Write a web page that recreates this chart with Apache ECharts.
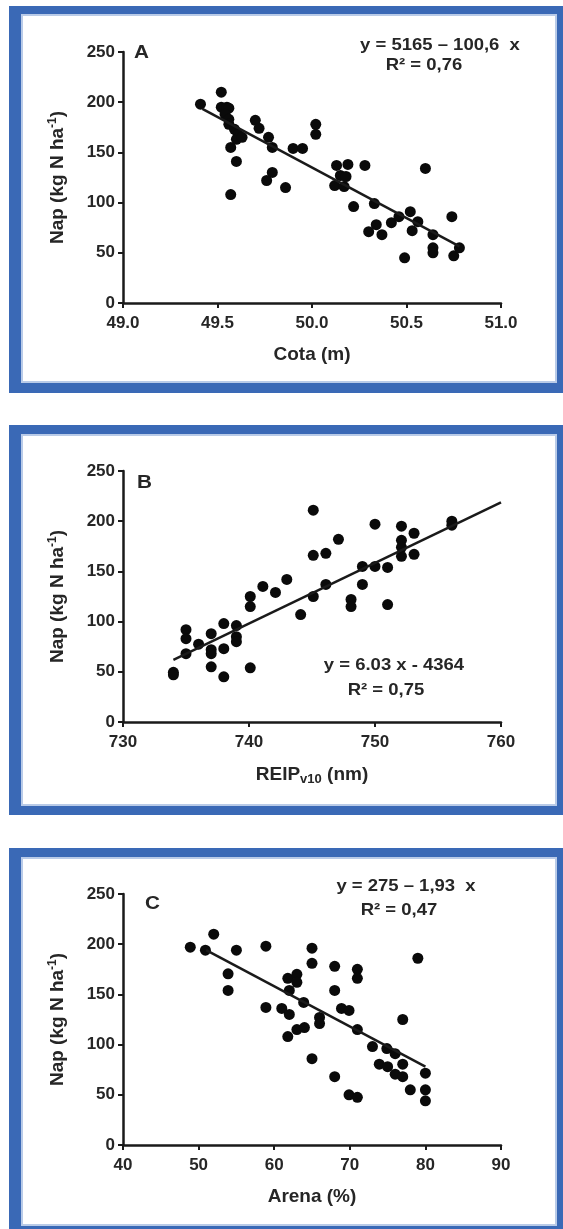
<!DOCTYPE html>
<html><head><meta charset="utf-8">
<script src="https://cdn.jsdelivr.net/npm/echarts@6/dist/echarts.min.js"></script>
<style>html,body{margin:0;padding:0;background:#fff}#c{width:563px;height:1229px}</style>
</head><body><div id="c"></div>
<script>
// Panel A: Cota (m) vs Nap
const cotaA = [49.41,49.52,49.52,49.55,49.56,49.54,49.56,49.56,49.59,49.61,49.60,49.63,49.57,49.60,49.57,49.70,49.72,49.77,49.79,49.79,49.76,49.86,49.90,49.95,50.02,50.02,50.13,50.19,50.28,50.15,50.18,50.12,50.17,50.22,50.33,50.30,50.34,50.37,50.42,50.46,50.52,50.53,50.56,50.49,50.60,50.64,50.64,50.64,50.74,50.75,50.78];
const napA  = [198,210,195,195,194,188,183,178,173,168,163,165,155,141,108,182,174,165,155,130,122,115,154,154,178,168,137,138,137,127,126,117,116,96,99,71,78,68,80,86,91,72,81,45,134,68,55,50,86,47,55];
const fitA = [[49.42,193.3],[50.78,56.5]];
// Panel B: REIPv10 (nm) vs Nap
const reipB = [734,734,735,735,735,736,737,737,737,737,738,738,738,739,739,739,740.1,740.1,740.1,741.1,742.1,743,744.1,745.1,745.1,745.1,746.1,746.1,747.1,748.1,748.1,749,749,750,750,751,751,752.1,752.1,752.1,752.1,753.1,753.1,756.1,756.1,760.1];
const napB  = [49.5,47,92,83,68,77.5,88,72,68,55,98,73,45,96,85,80,125,115,54,135,129,142,107,211,166,125,168,137,182,122,115,155,137,197,155,154,117,195,181,174,165,188,167,200,196,194];
const fitB = [[734,62.0],[760,218.8]];
// Panel C: Arena (%) vs Nap
const arenaC = [48.9,50.9,52,53.9,53.9,55,58.9,58.9,61,61.8,62,62,61.8,63,63,63,63.9,64,65,65,65,66,66,68,68,68,68.9,69.9,69.9,71,71,71,71,73,73.9,74.9,75,76,76,77,77,77,78,79,80,80,80];
const napC   = [197,194,210,170.5,154,194,198,137,136,166,154,130,108,170,162,115,142,117,196,181,86,127,121,178,154,68,136,134,50,175,166,115,47.5,98,80.5,96,78,91,70.5,125,80.5,68,55,186,71.5,55,44];
const fitC = [[51,194],[80,78]];

const yTicks = [0,50,100,150,200,250];
const labelsText = ['A','B','C'];
const equations = [['y = 5165 – 100,6  x','R² = 0,76'],['y = 6.03 x - 4364','R² = 0,75'],['y = 275 – 1,93  x','R² = 0,47']];
const xNames = ['Cota (m)','REIP{sub|v10} (nm)','Arena (%)'];
const xRanges = [[49,51,0.5],[730,760,10],[40,90,10]];

const FONT = '"Liberation Sans", Arial, sans-serif';
const TXT = '#262626';
const tops = [52, 471, 894];
const H = 251;

const chart = echarts.init(document.getElementById('c'), null, {renderer:'canvas'});
const grids = tops.map(t => ({left:123, top:t, width:378, height:H}));
const xAxes = xRanges.map((r,i) => ({
  type:'value', gridIndex:i, min:r[0], max:r[1], interval:r[2],
  name:xNames[i], nameLocation:'middle', nameGap:42,
  nameTextStyle:{fontFamily:FONT, fontWeight:'bold', fontSize:19, color:TXT,
    rich:{sub:{fontFamily:FONT, fontWeight:'bold', fontSize:13, color:TXT, verticalAlign:'bottom', padding:[9,0,0,0]}}},
  axisLine:{lineStyle:{color:'#1a1a1a', width:2.5}},
  axisTick:{length:5, lineStyle:{color:'#1a1a1a', width:2}},
  axisLabel:{fontFamily:FONT, fontWeight:'bold', fontSize:17, color:TXT, margin:12,
    formatter: v => i===0 ? v.toFixed(1) : String(v)},
  splitLine:{show:false}
}));
const yAxes = tops.map((t,i) => ({
  type:'value', gridIndex:i, min:yTicks[0], max:yTicks[yTicks.length-1], interval:50,
  name:'Nap (kg N ha{sup|-1})', nameLocation:'middle', nameGap:55, nameRotate:90,
  nameTextStyle:{fontFamily:FONT, fontWeight:'bold', fontSize:19, color:TXT,
    rich:{sup:{fontFamily:FONT, fontWeight:'bold', fontSize:12, color:TXT, verticalAlign:'top', padding:[0,0,9,0]}}},
  axisLine:{lineStyle:{color:'#1a1a1a', width:2.5}},
  axisTick:{length:5, lineStyle:{color:'#1a1a1a', width:2}},
  axisLabel:{fontFamily:FONT, fontWeight:'bold', fontSize:17, color:TXT, margin:8},
  splitLine:{show:false}
}));
const pts = [[cotaA,napA],[reipB,napB],[arenaC,napC]];
const fits = [fitA,fitB,fitC];
const series = [];
pts.forEach((p,i) => {
  series.push({type:'scatter', xAxisIndex:i, yAxisIndex:i, symbolSize:11,
    itemStyle:{color:'#0a0a0a', opacity:1}, data:p[0].map((x,k)=>[x,p[1][k]]), z:3});
  series.push({type:'line', xAxisIndex:i, yAxisIndex:i, symbol:'none',
    lineStyle:{color:'#1a1a1a', width:2.5}, data:fits[i], z:4});
});

const frames = [[9,6,560,387,22,15,534,367],[9,425,560,390,22,435,534,370],[9,848,560,390,22,858,534,367]];
const graphic = [];
frames.forEach(f => {
  graphic.push({type:'rect', z:-10, shape:{x:f[0],y:f[1],width:f[2],height:f[3]}, style:{fill:'#3a69b6'}});
  graphic.push({type:'rect', z:-9, shape:{x:f[4],y:f[5],width:f[6],height:f[7]}, style:{fill:'#ffffff', stroke:'#b9cbe8', lineWidth:2}});
});
const letterPos = [[134,53],[137,483],[145,904]];
letterPos.forEach((p,i) => graphic.push({type:'text', z:10, x:p[0], y:p[1], scaleX:1.15,
  style:{text:labelsText[i], font:'bold 18px '+FONT, fill:TXT, verticalAlign:'middle'}}));
const eqPos = [[440,45,424,65],[394,665,386,690],[406,886,399,910]];
eqPos.forEach((p,i) => {
  graphic.push({type:'text', z:10, x:p[0], y:p[1], scaleX:1.12, style:{text:equations[i][0], font:'bold 16.5px '+FONT, fill:TXT, align:'center', verticalAlign:'middle'}});
  graphic.push({type:'text', z:10, x:p[2], y:p[3], scaleX:1.12, style:{text:equations[i][1], font:'bold 16.5px '+FONT, fill:TXT, align:'center', verticalAlign:'middle'}});
});

chart.setOption({animation:false, backgroundColor:'#fff', grid:grids, xAxis:xAxes, yAxis:yAxes, series:series, graphic:graphic});
</script></body></html>
